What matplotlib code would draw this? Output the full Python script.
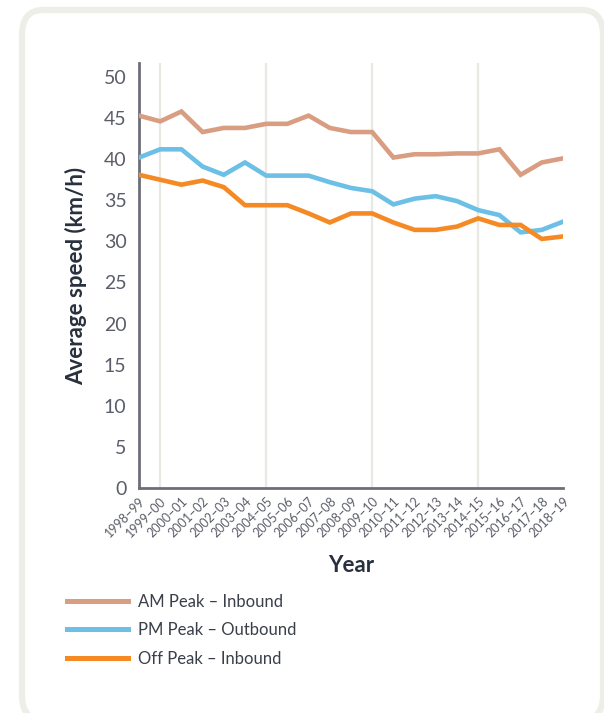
import matplotlib.pyplot as plt
from matplotlib.patches import FancyBboxPatch

# Average speed by financial year
years = ['1998–99', '1999–00', '2000–01', '2001–02', '2002–03', '2003–04',
         '2004–05', '2005–06', '2006–07', '2007–08', '2008–09', '2009–10',
         '2010–11', '2011–12', '2012–13', '2013–14', '2014–15', '2015–16',
         '2016–17', '2017–18', '2018–19']
am_inbound = [45.3, 44.6, 45.8, 43.3, 43.8, 43.8, 44.3, 44.3, 45.3, 43.8, 43.3,
              43.3, 40.2, 40.6, 40.6, 40.7, 40.7, 41.2, 38.1, 39.6, 40.1]
pm_outbound = [40.2, 41.2, 41.2, 39.1, 38.1, 39.6, 38.0, 38.0, 38.0, 37.2, 36.5,
               36.1, 34.5, 35.2, 35.5, 34.9, 33.8, 33.2, 31.1, 31.4, 32.4]
off_inbound = [38.1, 37.5, 36.9, 37.4, 36.6, 34.4, 34.4, 34.4, 33.4, 32.3, 33.4,
               33.4, 32.3, 31.4, 31.4, 31.8, 32.8, 32.0, 32.0, 30.3, 30.6]
series_labels = ['AM Peak – Inbound', 'PM Peak – Outbound', 'Off Peak – Inbound']

COLORS = ['#d99d81', '#6cc0e6', '#f58a24']
AXIS_GRAY = '#6c6e78'
TEXT_GRAY = '#5b5e68'
DARK = '#28303d'

plt.rcParams['font.family'] = ['Lato', 'DejaVu Sans']

W, H = 604, 713
fig = plt.figure(figsize=(W / 100, H / 100), dpi=100)

# card background, kept behind the axes
card = FancyBboxPatch((22 / W, 1 - 720 / H), 581 / W, 710 / H,
                      boxstyle='round,pad=0,rounding_size=0.035',
                      transform=fig.transFigure, facecolor='white',
                      edgecolor='#eeeee9', linewidth=4.5, zorder=-10)
fig.patches.append(card)

ax = fig.add_axes([139 / W, 1 - 488 / H, 424 / W, 425 / H])
ax.set_facecolor('none')

x = list(range(len(years)))
for vals, col, lab in zip([am_inbound, pm_outbound, off_inbound], COLORS, series_labels):
    ax.plot(x, vals, color=col, lw=3.3, label=lab, solid_joinstyle='miter', zorder=3)

ax.set_xlim(0, len(years) - 1)
ax.set_ylim(0, 51.7)
ax.set_yticks(range(0, 51, 5))

# vertical gridlines every five years
for gx in [1, 6, 11, 16]:
    ax.axvline(gx, color='#e9e9e4', lw=1.6, zorder=1)

ax.set_xticks(x)
ax.set_xticklabels(years, rotation=45, ha='right', rotation_mode='anchor',
                   fontsize=9, color=TEXT_GRAY)
ax.tick_params(axis='x', length=0, pad=5)
ax.tick_params(axis='y', length=0, pad=9, labelsize=14, labelcolor=TEXT_GRAY)

for side in ['top', 'right']:
    ax.spines[side].set_visible(False)
ax.spines['left'].set_color(AXIS_GRAY)
ax.spines['left'].set_linewidth(2)
ax.spines['bottom'].set_color(AXIS_GRAY)
ax.spines['bottom'].set_linewidth(2)

ax.set_ylabel('Average speed (km/h)', fontsize=16, fontweight='bold',
              color=DARK, labelpad=12)
fig.text(351 / W, 1 - 566 / H, 'Year', fontsize=16, fontweight='bold',
         color=DARK, ha='center', va='center')

leg = fig.legend(loc='upper left', bbox_to_anchor=(60 / W, 1 - 587 / H),
                 frameon=False, fontsize=12, handlelength=3.7,
                 handletextpad=0.55, labelspacing=0.76, borderaxespad=0)
for line in leg.get_lines():
    line.set_linewidth(3.6)
for t in leg.get_texts():
    t.set_color('#3a3f4a')

fig.savefig('out.png', dpi=100)
